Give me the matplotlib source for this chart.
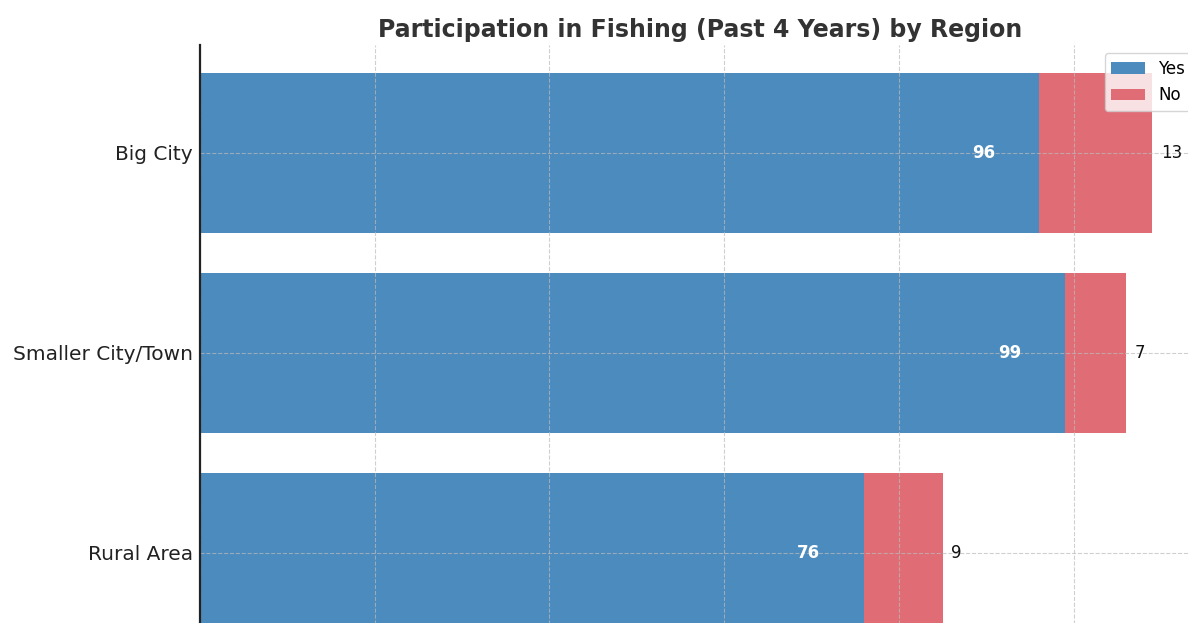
import matplotlib
matplotlib.use("Agg")
import matplotlib.pyplot as plt
import numpy as np

regions = ["Big City", "Smaller City/Town", "Rural Area"]
yes_vals = [96, 99, 76]
no_vals = [13, 7, 9]

fig = plt.figure(figsize=(11.88, 6.23), dpi=100)
W, H = 1188, 623
left, right, top, bottom = 200, 1200, 45, 661
ax = fig.add_axes([left / W, (H - bottom) / H, (right - left) / W, (bottom - top) / H])

y = np.arange(len(regions))
blue = "#4b8bbe"
red = "#e06c75"
ax.barh(y, yes_vals, height=0.8, color=blue, label="Yes", zorder=2)
ax.barh(y, no_vals, left=yes_vals, height=0.8, color=red, label="No", zorder=2)

for i in range(len(regions)):
    ax.text(yes_vals[i] - 5, y[i], str(yes_vals[i]), ha="right", va="center",
            color="white", fontsize=12, fontweight="bold", zorder=4)
    ax.text(yes_vals[i] + no_vals[i] + 1, y[i], str(no_vals[i]), ha="left", va="center",
            color="#111111", fontsize=12, zorder=4)

ax.set_yticks(y)
ax.set_yticklabels(regions, fontsize=14.5, color="#222222")
ax.set_xlim(0, 109 * 1.05)
ax.set_ylim(2.54, -0.54)
ax.set_xticks(np.arange(0, 120, 20))
ax.tick_params(axis="x", labelbottom=False, length=0)
ax.grid(True, linestyle="--", color="#bbbbbb", linewidth=0.8, alpha=0.7, zorder=3)
ax.set_axisbelow(False)
for s in ["top", "right", "bottom"]:
    ax.spines[s].set_visible(False)
ax.spines["left"].set_color("#222222")
ax.spines["left"].set_linewidth(1.6)
ax.spines["left"].set_zorder(6)
ax.tick_params(axis="y", length=0, pad=5)
ax.set_title("Participation in Fishing (Past 4 Years) by Region", fontsize=17,
             fontweight="bold", color="#333333", pad=6)
ax.legend(loc="upper right", fontsize=12)

fig.savefig("out.png", dpi=100)
